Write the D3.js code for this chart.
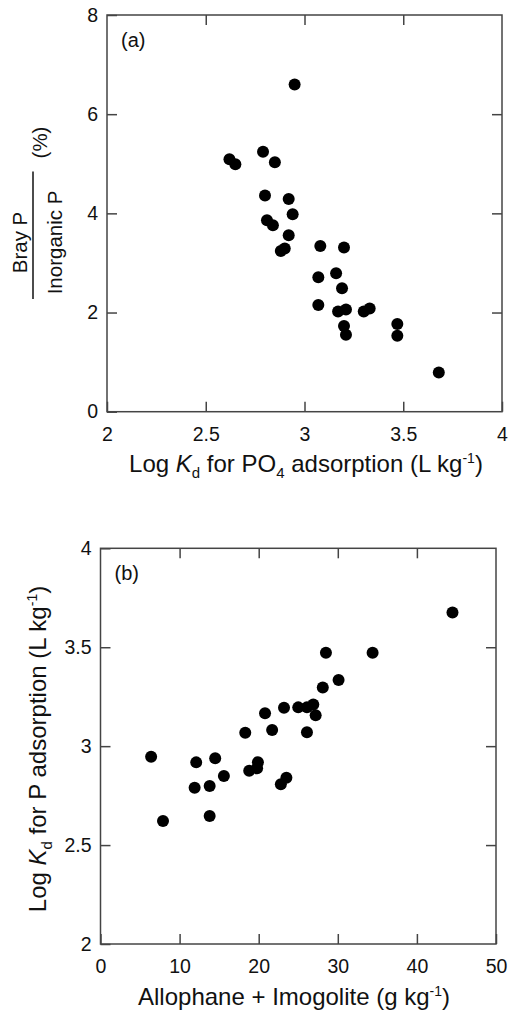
<!DOCTYPE html>
<html>
<head>
<meta charset="utf-8">
<script src="https://cdn.jsdelivr.net/npm/d3@7"></script>
<style>
  body { margin: 0; background: #fff; }
  svg text { font-family: "Liberation Sans", Arial, Helvetica, sans-serif; fill: #111; }
</style>
</head>
<body>
<div id="chart"></div>
<script>
// panel (a): Log Kd vs Bray P / Inorganic P (%)
var kdA = [2.95, 2.62, 2.65, 2.79, 2.85, 2.80, 2.92, 2.81, 2.84, 2.94, 2.92, 2.88, 2.90,
           3.08, 3.20, 3.07, 3.16, 3.19, 3.07, 3.17, 3.21, 3.20, 3.21, 3.30, 3.33, 3.47, 3.47, 3.68];
var ratioA = [6.60, 5.09, 4.99, 5.24, 5.03, 4.36, 4.29, 3.86, 3.76, 3.98, 3.56, 3.24, 3.29,
              3.34, 3.31, 2.71, 2.79, 2.49, 2.15, 2.02, 2.06, 1.73, 1.55, 2.02, 2.08, 1.77, 1.53, 0.79];

// panel (b): Allophane + Imogolite vs Log Kd
var allophaneB = [44.5, 28.5, 34.4, 30.1, 28.1, 20.8, 23.2, 25.0, 26.1, 26.9, 27.2, 21.7, 26.1, 18.3,
                  6.4, 12.1, 14.5, 15.6, 11.9, 13.8, 18.8, 19.9, 19.8, 22.8, 23.5, 7.9, 13.8];
var kdB = [3.675, 3.472, 3.472, 3.334, 3.297, 3.166, 3.194, 3.196, 3.196, 3.21, 3.156, 3.082, 3.07, 3.068,
           2.947, 2.918, 2.939, 2.849, 2.79, 2.799, 2.876, 2.919, 2.888, 2.807, 2.84, 2.622, 2.647];

var xTicksA = [2, 2.5, 3, 3.5, 4];
var yTicksA = [0, 2, 4, 6, 8];
var xTicksB = [0, 10, 20, 30, 40, 50];
var yTicksB = [2, 2.5, 3, 3.5, 4];

var width = 508, height = 1012;
var svg = d3.select("#chart").append("svg")
    .attr("width", width)
    .attr("height", height);

function drawPanel(opt) {
    var x = d3.scaleLinear().domain(d3.extent(opt.xTicks)).range([opt.left, opt.right]);
    var y = d3.scaleLinear().domain(d3.extent(opt.yTicks)).range([opt.bottom, opt.top]);
    var g = svg.append("g");
    var inner = function(t) { return t.slice(1, -1); };

    // bottom + left axes with labels, inward ticks
    g.append("g")
        .attr("transform", "translate(0," + opt.bottom + ")")
        .call(d3.axisBottom(x).tickValues(opt.xTicks).tickSize(-10).tickPadding(15)
            .tickFormat(function(d) { return String(d); }));
    g.append("g")
        .attr("transform", "translate(" + opt.left + ",0)")
        .call(d3.axisLeft(y).tickValues(opt.yTicks).tickSize(-10).tickPadding(9)
            .tickFormat(function(d) { return String(d); }));
    // mirrored top + right ticks
    g.append("g")
        .attr("transform", "translate(0," + opt.top + ")")
        .call(d3.axisTop(x).tickValues(inner(opt.xTicks)).tickSize(-10).tickFormat(""));
    g.append("g")
        .attr("transform", "translate(" + opt.right + ",0)")
        .call(d3.axisRight(y).tickValues(inner(opt.yTicks)).tickSize(-10).tickFormat(""));

    g.selectAll(".domain").remove();
    g.selectAll(".tick line").attr("stroke", "#444").attr("stroke-width", 1.5);
    g.selectAll(".tick text").attr("font-size", 19.5).attr("fill", "#111")
        .attr("font-family", "Liberation Sans, Arial, sans-serif");

    g.append("rect")
        .attr("x", opt.left).attr("y", opt.top)
        .attr("width", opt.right - opt.left).attr("height", opt.bottom - opt.top)
        .attr("fill", "none").attr("stroke", "#444").attr("stroke-width", 1.5);

    g.selectAll("circle.pt")
        .data(opt.xs)
        .enter().append("circle")
        .attr("class", "pt")
        .attr("cx", function(d) { return x(d); })
        .attr("cy", function(d, i) { return y(opt.ys[i]); })
        .attr("r", 6)
        .attr("fill", "#000");

    g.append("text")
        .attr("x", opt.left + 14)
        .attr("y", opt.top + 32)
        .attr("font-size", 20)
        .text(opt.tag);
    return g;
}

var gA = drawPanel({
    xs: kdA, ys: ratioA, xTicks: xTicksA, yTicks: yTicksA,
    left: 107, right: 502, top: 15, bottom: 411.7, tag: "(a)"
});
var gB = drawPanel({
    xs: allophaneB, ys: kdB, xTicks: xTicksB, yTicks: yTicksB,
    left: 100.5, right: 496, top: 548.3, bottom: 944, tag: "(b)"
});

// x title (a)
var tA = gA.append("text").attr("x", 306).attr("y", 472).attr("font-size", 24).attr("text-anchor", "middle");
tA.append("tspan").text("Log ");
tA.append("tspan").attr("font-style", "italic").text("K");
tA.append("tspan").attr("font-size", 15).attr("dy", 6).text("d");
tA.append("tspan").attr("dy", -6).text(" for PO");
tA.append("tspan").attr("font-size", 15).attr("dy", 6).text("4");
tA.append("tspan").attr("dy", -6).text(" adsorption (L kg");
tA.append("tspan").attr("font-size", 14).attr("dy", -9).text("-1");
tA.append("tspan").attr("dy", 9).text(")");

// y title (a): fraction Bray P / Inorganic P (%)
var yA = gA.append("g").attr("transform", "rotate(-90)");
yA.append("text").attr("x", -242.5).attr("y", 27).attr("font-size", 20.5)
    .attr("text-anchor", "middle").text("Bray P");
yA.append("text").attr("x", -242.5).attr("y", 61.5).attr("font-size", 20.5)
    .attr("text-anchor", "middle").text("Inorganic P");
yA.append("line").attr("x1", -171.5).attr("x2", -299).attr("y1", 33).attr("y2", 33)
    .attr("stroke", "#111").attr("stroke-width", 1.5);
yA.append("text").attr("x", -142.5).attr("y", 47).attr("font-size", 20.5)
    .attr("text-anchor", "middle").text("(%)");

// x title (b)
gB.append("text").attr("x", 294).attr("y", 1005).attr("font-size", 24)
    .attr("text-anchor", "middle")
    .call(function(t) {
        t.append("tspan").text("Allophane + Imogolite (g kg");
        t.append("tspan").attr("font-size", 14).attr("dy", -9).text("-1");
        t.append("tspan").attr("dy", 9).text(")");
    });

// y title (b)
var tB = gB.append("text").attr("transform", "rotate(-90)")
    .attr("x", -749).attr("y", 46).attr("font-size", 24).attr("text-anchor", "middle");
tB.append("tspan").text("Log ");
tB.append("tspan").attr("font-style", "italic").text("K");
tB.append("tspan").attr("font-size", 15).attr("dy", 6).text("d");
tB.append("tspan").attr("dy", -6).text(" for P adsorption (L kg");
tB.append("tspan").attr("font-size", 14).attr("dy", -9).text("-1");
tB.append("tspan").attr("dy", 9).text(")");
</script>
</body>
</html>
